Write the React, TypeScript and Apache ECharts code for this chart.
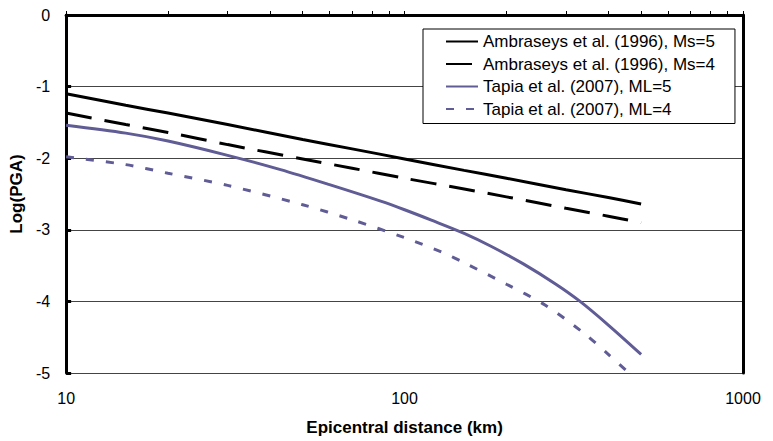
import React, { useEffect, useRef } from "react";
import * as echarts from "echarts";

// Epicentral distance (km) sample points and Log(PGA) values
const ambDist = [10, 15, 20, 30, 50, 70, 100, 150, 200, 300, 400, 500];
const ambMs5 = [-1.10, -1.26, -1.37, -1.53, -1.74, -1.87, -2.01, -2.17, -2.28, -2.44, -2.55, -2.64];
const ambMs4 = [-1.37, -1.53, -1.64, -1.81, -2.01, -2.14, -2.28, -2.43, -2.54, -2.70, -2.81, -2.90];

const tapiaML5Dist = [10, 15, 20, 30, 43, 60, 85, 100, 120, 150, 180, 225, 280, 330, 400, 500];
const tapiaML5 = [-1.54, -1.65, -1.76, -1.96, -2.16, -2.37, -2.60, -2.72, -2.865, -3.05, -3.23, -3.48, -3.76, -4.00, -4.33, -4.74];

const tapiaML4Dist = [10, 15, 20, 30, 50, 70, 100, 130, 150, 200, 260, 340, 400, 460];
const tapiaML4 = [-1.98, -2.09, -2.21, -2.38, -2.65, -2.86, -3.11, -3.32, -3.46, -3.76, -4.05, -4.45, -4.74, -5.0];

const seriesNames = [
  "Ambraseys et al. (1996), Ms=5",
  "Ambraseys et al. (1996), Ms=4",
  "Tapia et al. (2007), ML=5",
  "Tapia et al. (2007), ML=4",
];

// log-axis minor tick positions on the top frame
const topTicks = [10, 20, 30, 40, 50, 60, 70, 80, 90, 100, 200, 300, 400, 500, 600, 700, 800, 900, 1000];

const zip = (xs: number[], ys: number[]) => xs.map((x, i) => [x, ys[i]]);

const FONT = "'Liberation Sans', Arial, Helvetica, sans-serif";
const PURPLE = "#605c95";
const FS = 16;
const FS_BIG = 17;

export default function App() {
  const ref = useRef<HTMLDivElement>(null);
  useEffect(() => {
    if (!ref.current) return;
    const chart = echarts.init(ref.current, undefined, { renderer: "svg" });
    chart.setOption({
      animation: false,
      backgroundColor: "#ffffff",
      textStyle: { fontFamily: FONT },
      grid: { left: 65, right: 30, top: 15, bottom: 64, containLabel: false },
      legend: {
        orient: "vertical",
        left: 423,
        top: 29,
        padding: [4, 20, 6, 22],
        itemWidth: 32,
        itemHeight: 14,
        itemGap: 5.5,
        backgroundColor: "#ffffff",
        borderColor: "#000000",
        borderWidth: 1,
        borderRadius: 0,
        itemStyle: { opacity: 0 },
        textStyle: { fontFamily: FONT, fontSize: FS_BIG, color: "#000" },
        data: seriesNames,
      },
      xAxis: [
        {
          type: "log",
          logBase: 10,
          min: 10,
          max: 1000,
          position: "bottom",
          axisLine: { show: true, lineStyle: { color: "#000", width: 3 } },
          axisTick: { show: false },
          axisLabel: {
            fontSize: FS,
            color: "#000",
            margin: 17,
            fontFamily: FONT,
            formatter: (v: number) => String(Math.round(v)),
          },
          splitLine: { show: false },
          name: "Epicentral distance (km)",
          nameLocation: "middle",
          nameGap: 46,
          nameTextStyle: { fontSize: FS_BIG, fontWeight: "bold", color: "#000", fontFamily: FONT },
        },
        {
          type: "value",
          min: 1,
          max: 3,
          position: "top",
          axisLine: { show: true, onZero: false, lineStyle: { color: "#000", width: 2 } },
          axisTick: {
            show: true,
            inside: false,
            length: 4,
            lineStyle: { color: "#000", width: 1 },
            customValues: topTicks.map((v) => Math.log10(v)),
          },
          axisLabel: { show: false },
          splitLine: { show: false },
        },
      ],
      yAxis: [
        {
          type: "value",
          min: -5,
          max: 0,
          interval: 1,
          position: "left",
          axisLine: { show: true, onZero: false, lineStyle: { color: "#000", width: 3 } },
          axisTick: { show: true, inside: true, length: 5, lineStyle: { color: "#000", width: 3 } },
          axisLabel: { fontSize: FS, color: "#000", margin: 16, fontFamily: FONT },
          splitLine: { show: true, lineStyle: { color: "#444", width: 1 } },
          name: "Log(PGA)",
          nameLocation: "middle",
          nameGap: 40,
          nameTextStyle: { fontSize: FS_BIG, fontWeight: "bold", color: "#000", fontFamily: FONT },
        },
        {
          type: "value",
          min: -5,
          max: 0,
          position: "right",
          axisLine: { show: true, onZero: false, lineStyle: { color: "#000", width: 3 } },
          axisTick: { show: false },
          axisLabel: { show: false },
          splitLine: { show: false },
        },
      ],
      series: [
        {
          name: seriesNames[0],
          type: "line",
          data: zip(ambDist, ambMs5),
          symbol: "none",
          smooth: 0.3,
          lineStyle: { color: "#000", width: 3 },
          itemStyle: { color: "#000" },
          z: 3,
        },
        {
          name: seriesNames[1],
          type: "line",
          data: zip(ambDist, ambMs4),
          symbol: "none",
          smooth: 0.3,
          lineStyle: { color: "#000", width: 3, type: [26, 13] },
          itemStyle: { color: "#000" },
          z: 3,
        },
        {
          name: seriesNames[2],
          type: "line",
          data: zip(tapiaML5Dist, tapiaML5),
          symbol: "none",
          smooth: 0.3,
          lineStyle: { color: PURPLE, width: 3 },
          itemStyle: { color: PURPLE },
          z: 3,
        },
        {
          name: seriesNames[3],
          type: "line",
          data: zip(tapiaML4Dist, tapiaML4),
          symbol: "none",
          smooth: 0.3,
          lineStyle: { color: PURPLE, width: 3, type: [8, 12] },
          itemStyle: { color: PURPLE },
          z: 3,
        },
      ],
    });
    return () => chart.dispose();
  }, []);
  return (
    <div
      ref={ref}
      style={{ position: "fixed", left: 0, top: 0, width: 773, height: 441, background: "#fff" }}
    />
  );
}
